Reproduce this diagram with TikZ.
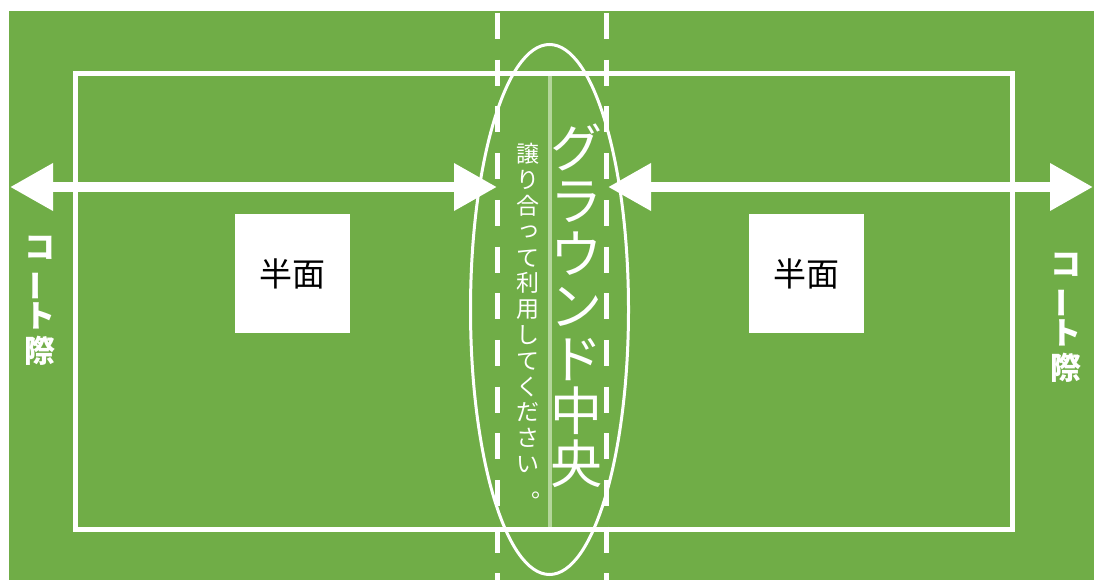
\documentclass[tikz,border=0pt]{standalone}
\usepackage{fontspec}
\newfontfamily\jp{Noto Sans CJK JP}
\usetikzlibrary{arrows.meta}
\definecolor{field}{HTML}{70AD47}
\definecolor{midline}{HTML}{B4D69B}
\tikzset{
  courtline/.style={draw=white, line width=5pt},
  dashline/.style={draw=white, line width=5pt, dash pattern=on 26pt off 20.7pt},
  bigarrow/.style={draw=white, line width=10pt,
    {Triangle[length=43pt,width=45pt]}-{Triangle[length=43pt,width=45pt]}},
  halfbox/.style={fill=white, minimum width=115pt, minimum height=119pt, inner sep=0pt,
    font=\jp\fontsize{33}{33}\selectfont, text=black},
  vtext/.style={align=center, inner sep=0pt, text=white},
}
\newcommand{\vbar}{\rotatebox[origin=c]{90}{ー}}
\newcommand{\vmaru}{\hbox to 1em{\kern0.65em\raisebox{0.05em}{\makebox[0pt][l]{。}}\hss}}
\newcommand{\vtsu}{\kern0.12em\raisebox{0.1em}{っ}}
\begin{document}
\begin{tikzpicture}[x=1pt,y=-1pt]
\useasboundingbox (0,0) rectangle (1094,580);
\fill[field] (9,11) rectangle (1094,580);
% court
\draw[courtline] (75.5,73.5) rectangle (1012.5,529.5);
% dashed lines
\draw[dashline] (497.5,13) -- (497.5,580);
\draw[dashline] (606.5,13) -- (606.5,580);
% center line
\coordinate (ct) at (550,76);
\coordinate (cb) at (550,527);
\draw[midline, line width=4pt] (ct) -- (cb);
% ellipse
\draw[white, line width=3pt] (549.5,309.5) ellipse [x radius=79, y radius=265];
% arrows
\coordinate (la1) at (10,187);
\coordinate (la2) at (497,187);
\coordinate (ra1) at (608,187);
\coordinate (ra2) at (1093,187);
\draw[bigarrow] (la1) -- (la2);
\draw[bigarrow] (ra1) -- (ra2);
% half boxes
\node[halfbox] (hl) at (292.5,273.5) {半面};
\node[halfbox] (hr) at (806.5,273.5) {半面};
% side texts
\node[vtext, font=\jp\bfseries\fontsize{31}{34.5}\selectfont] (sl) at (40,301) {コ\\\vbar\\ト\\際};
\node[vtext, font=\jp\bfseries\fontsize{31}{34.5}\selectfont] (sr) at (1066,318) {コ\\\vbar\\ト\\際};
% center texts
\node[vtext, font=\jp\fontsize{52}{52.6}\selectfont] (big) at (576,306) {グ\\ラ\\ウ\\ン\\ド\\中\\央};
\node[vtext, font=\jp\fontsize{23}{25.8}\selectfont] (small) at (528,321) {譲\\り\\合\\\vtsu\\て\\利\\用\\し\\て\\く\\だ\\さ\\い\\\vmaru};
\end{tikzpicture}
\end{document}
